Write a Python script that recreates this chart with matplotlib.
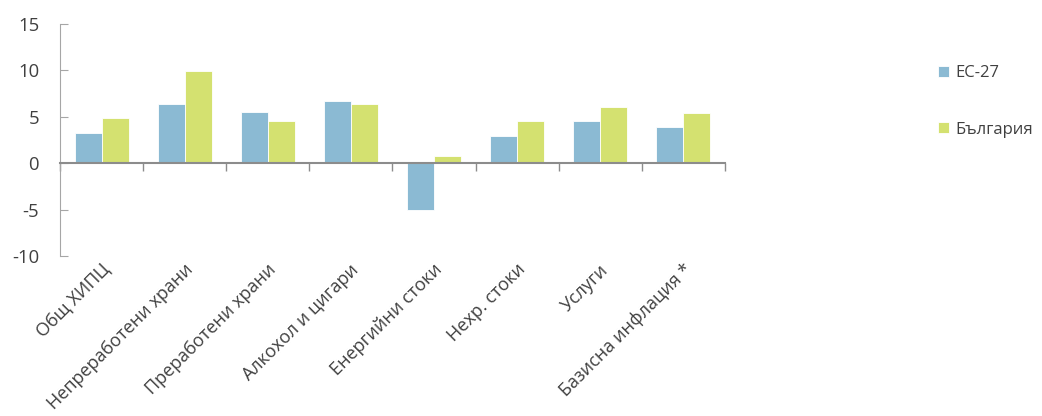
import numpy as np
import matplotlib as mpl
import matplotlib.pyplot as plt

mpl.use('Agg')

categories = ["Общ ХИПЦ", "Непреработени храни", "Преработени храни", "Алкохол и цигари",
              "Енергийни стоки", "Нехр. стоки", "Услуги", "Базисна инфлация *"]
eu27 = [3.3, 6.4, 5.5, 6.7, -5.0, 2.9, 4.5, 3.9]
bulgaria = [4.9, 9.9, 4.6, 6.4, 0.8, 4.5, 6.1, 5.4]
series_names = ["ЕС-27", "България"]

plt.rcParams['font.family'] = ['Open Sans', 'DejaVu Sans']
txt = '#404040'
axc = '#8c8c8c'

fig = plt.figure(figsize=(10.42, 4.16), dpi=100)
ax = fig.add_axes([0.0576, 0.3846, 0.638, 0.5577])

x = np.arange(len(categories))
w = 0.325
ax.bar(x - w / 2, eu27, w, color='#8bbad3', edgecolor='white', linewidth=0.6, label=series_names[0])
ax.bar(x + w / 2, bulgaria, w, color='#d4e170', edgecolor='white', linewidth=0.6, label=series_names[1])

ax.set_xlim(-0.5, len(categories) - 0.5)
ax.set_ylim(-10, 15)
ax.set_yticks([-10, -5, 0, 5, 10, 15])
ax.set_yticklabels(['-10', '-5', '0', '5', '10', '15'])

for s in ['top', 'right']:
    ax.spines[s].set_visible(False)
ax.spines['bottom'].set_position(('data', 0))
ax.spines['bottom'].set_color(axc)
ax.spines['bottom'].set_linewidth(1.5)
ax.spines['left'].set_color('#a6a6a6')

ax.set_xticks(x)
ax.set_xticklabels([])
ax.set_xticks(np.arange(len(categories) + 1) - 0.5, minor=True)
ax.tick_params(axis='x', which='major', length=0)
ax.tick_params(axis='x', which='minor', length=6, direction='out', color=axc, width=1)
ax.tick_params(axis='y', length=6, direction='in', color='#a6a6a6', labelsize=13.3,
               labelcolor=txt, pad=15)

for i, lab in enumerate(categories):
    ax.text(i - 0.01, -10.5, lab, rotation=45, ha='right', va='top', rotation_mode='anchor',
            fontsize=13, color=txt)

fig.legend(loc='upper left', bbox_to_anchor=(0.886, 0.88), frameon=False, fontsize=12,
           handlelength=0.65, handleheight=0.65, handletextpad=0.4, labelspacing=2.45,
           labelcolor=txt)

fig.savefig('out.png', dpi=100)
